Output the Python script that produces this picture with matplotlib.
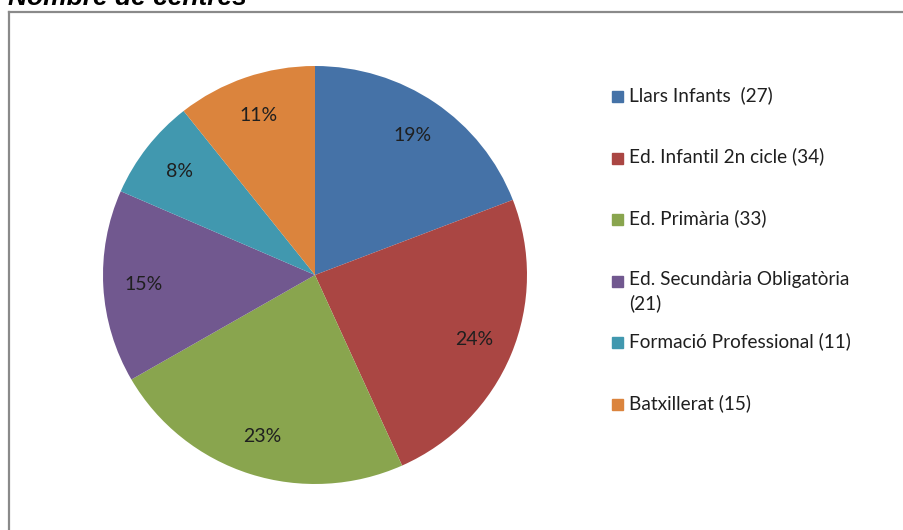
import matplotlib
matplotlib.use("Agg")
import matplotlib.pyplot as plt
from matplotlib.lines import Line2D
from matplotlib.patches import Rectangle

# === DATA ===
categories = ["Llars Infants  (27)", "Ed. Infantil 2n cicle (34)", "Ed. Primària (33)",
              "Ed. Secundària Obligatòria\n(21)", "Formació Professional (11)", "Batxillerat (15)"]
values = [27, 34, 33, 21, 11, 15]
colors = ["#4572A7", "#AA4643", "#89A54E", "#71588F", "#4198AF", "#DB843D"]

plt.rcParams['font.family'] = ['Lato', 'DejaVu Sans']

W, H = 904, 530
fig = plt.figure(figsize=(W / 100, H / 100), dpi=100)

# --- frame (only top/left visible in the original) ---
fig.add_artist(Line2D([9 / W, 9 / W], [0, 1 - 12 / H], transform=fig.transFigure,
                      color="#8a8a8a", lw=1.6))
fig.add_artist(Line2D([9 / W, 1], [1 - 12 / H, 1 - 12 / H], transform=fig.transFigure,
                      color="#8a8a8a", lw=1.6))

# --- title (clipped at top, as in the original) ---
fig.text(8 / W, 1 - 5 / H, "Nombre de centres", fontsize=19, fontweight="bold",
         fontstyle="italic", family="Liberation Sans", va="baseline", ha="left")

# --- pie ---
cx, cy, rx, ry = 315, 275, 212, 209
ax = fig.add_axes([(cx - rx) / W, (H - cy - ry) / H, 2 * rx / W, 2 * ry / H])
wedges, texts, autotexts = ax.pie(values, colors=colors, startangle=90, counterclock=False,
                                  autopct=lambda p: f"{p:.0f}%", pctdistance=0.81,
                                  textprops=dict(fontsize=14, color="#1f1f1f"))
ax.set_xlim(-1, 1)
ax.set_ylim(-1, 1)
ax.set_aspect("auto")
ax.axis("off")

# --- legend (manual, first line of each entry evenly spaced) ---
y0, step = 97, 61.6
for i, (lab, col) in enumerate(zip(categories, colors)):
    y = y0 + i * step
    fig.add_artist(Rectangle((612 / W, 1 - (y + 5) / H), 11 / W, 11 / H,
                             transform=fig.transFigure, color=col))
    fig.text(629 / W, 1 - (y - 11) / H, lab, fontsize=13.7, color="#1f1f1f",
             va="top", ha="left", linespacing=1.4)

fig.savefig("out.png", dpi=100)
